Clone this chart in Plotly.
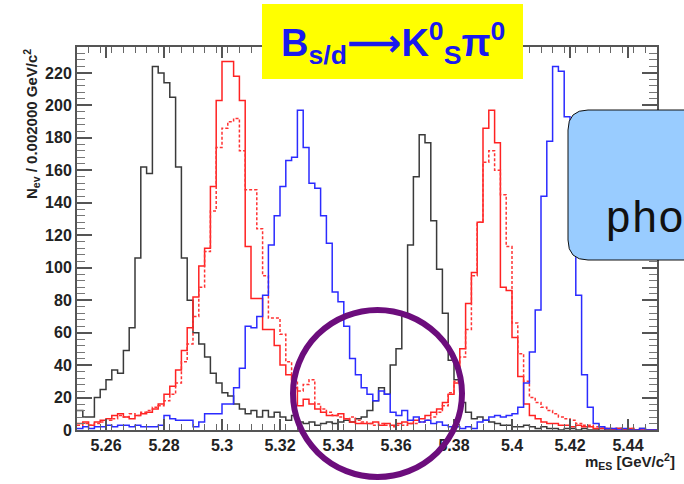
import numpy as np
import plotly.graph_objects as go

# ---------------- data (entries per 0.002 GeV/c^2 bin, 5.25 .. 5.45) ----------------
X_MIN = 5.25
BIN_WIDTH = 0.002

black = [12, 8, 8, 20, 25, 31, 37, 35, 49, 63,
         106, 162, 158, 224, 220, 214, 205, 162, 106, 80,
         60, 53, 45, 35, 29, 23, 21, 16, 13, 10,
         12, 8, 12, 8, 11, 8, 6, 9, 5, 4,
         5, 3, 4, 5, 4, 5, 6, 5, 7, 8,
         12, 18, 26, 22, 40, 50, 71, 114, 156, 182,
         177, 129, 99, 72, 43, 31, 17, 11, 7, 8,
         6, 5, 4, 3, 3, 2, 2, 3, 2, 1,
         2, 1, 1, 0, 1, 1, 0, 1, 0, 0,
         1, 0, 0, 1, 0, 0, 0, 1, 0, 0]

red_solid = [4, 5, 3, 5, 6, 7, 9, 10, 8, 7,
             9, 10, 11, 13, 16, 22, 27, 37, 49, 63,
             82, 101, 112, 150, 203, 227, 227, 218, 203, 113,
             81, 81, 62, 62, 52, 40, 34, 26, 15, 19,
             16, 13, 11, 9, 9, 10, 7, 5, 4, 4,
             4, 5, 3, 4, 3, 4, 5, 4, 6, 7,
             9, 11, 13, 17, 22, 29, 50, 78, 97, 128,
             186, 197, 177, 88, 86, 57, 33, 16, 9, 7,
             5, 4, 4, 3, 3, 2, 3, 2, 2, 1,
             1, 1, 0, 1, 0, 1, 0, 0, 0, 0]

red_dashed = [3, 4, 3, 4, 5, 6, 7, 9, 8, 10,
              9, 11, 12, 14, 15, 18, 22, 29, 42, 53,
              70, 88, 110, 135, 174, 186, 190, 192, 172, 148,
              148, 124, 95, 69, 69, 59, 42, 30, 24, 28,
              31, 16, 13, 11, 9, 8, 7, 8, 6, 5,
              4, 3, 4, 3, 2, 3, 3, 4, 4, 5,
              6, 8, 11, 15, 23, 30, 45, 62, 95, 128,
              165, 172, 160, 145, 113, 66, 47, 30, 20, 17,
              14, 12, 10, 8, 7, 6, 4, 3, 3, 2,
              2, 1, 1, 1, 0, 1, 0, 0, 0, 0]

blue = [1, 2, 1, 2, 2, 3, 2, 3, 3, 2,
        3, 2, 2, 2, 3, 9, 7, 6, 6, 6,
        2, 5, 10, 10, 10, 16, 16, 26, 38, 64,
        63, 70, 83, 114, 132, 150, 166, 168, 197, 174,
        152, 149, 132, 115, 85, 79, 64, 44, 34, 26,
        22, 18, 24, 22, 11, 9, 12, 6, 8, 5,
        6, 4, 5, 3, 2, 2, 1, 2, 1, 5,
        6, 8, 9, 8, 9, 10, 14, 29, 48, 74,
        144, 178, 224, 221, 193, 130, 83, 34, 14, 4,
        2, 1, 1, 0, 1, 0, 0, 1, 0, 0]

x_tick_vals = [5.26, 5.28, 5.30, 5.32, 5.34, 5.36, 5.38, 5.40, 5.42, 5.44]
x_tick_text = ["5.26", "5.28", "5.3", "5.32", "5.34", "5.36", "5.38", "5.4", "5.42", "5.44"]
y_tick_vals = [0, 20, 40, 60, 80, 100, 120, 140, 160, 180, 200, 220]

X_RANGE = [5.25, 5.45]
Y_RANGE = [0, 236]

# ---------------- figure ----------------
W, H = 684, 484
ML, MR, MT, MB = 77, 27, 47, 54
PW, PH = W - ML - MR, H - MT - MB


def px(xp):
    return (xp - ML) / PW


def py(yp):
    return (H - MB - yp) / PH


edges = X_MIN + BIN_WIDTH * np.arange(len(black) + 1)


def steps(vals):
    return list(vals) + [vals[-1]]


fig = go.Figure()
series = [
    (black, "#3a3a3a", "solid"),
    (red_solid, "#ff2222", "solid"),
    (red_dashed, "#ff3333", "3px,2px"),
    (blue, "#2b2bff", "solid"),
]
for vals, col, dash in series:
    fig.add_trace(go.Scatter(
        x=edges, y=steps(vals), mode="lines",
        line=dict(color=col, width=1.5, shape="hv", dash=dash),
        hoverinfo="skip", showlegend=False))

SANS = "Liberation Sans, Arial, sans-serif"
tick_font = dict(family=SANS, size=16, color="#222222", weight="bold")

fig.update_layout(
    width=W, height=H,
    margin=dict(l=ML, r=MR, t=MT, b=MB),
    paper_bgcolor="white", plot_bgcolor="white",
    showlegend=False,
    xaxis=dict(range=X_RANGE, tickmode="array", tickvals=x_tick_vals,
               ticktext=x_tick_text, ticks="inside", ticklen=11, tickwidth=1.5,
               tickcolor="#555555", showline=True, linecolor="#555555",
               linewidth=2, mirror="allticks", showgrid=False, zeroline=False,
               tickfont=tick_font,
               minor=dict(tickmode="linear", tick0=5.25, dtick=0.004,
                          ticks="inside", ticklen=6, tickwidth=1,
                          tickcolor="#666666", showgrid=False)),
    yaxis=dict(range=Y_RANGE, tickmode="array", tickvals=y_tick_vals,
               ticks="inside", ticklen=15, tickwidth=1.5,
               tickcolor="#555555", showline=True, linecolor="#555555",
               linewidth=2, mirror="allticks", showgrid=False, zeroline=False,
               tickfont=tick_font,
               minor=dict(tickmode="linear", tick0=0, dtick=4,
                          ticks="inside", ticklen=8, tickwidth=1,
                          tickcolor="#777777", showgrid=False)),
)

# title box (yellow)
fig.add_shape(type="rect", xref="paper", yref="paper",
              x0=px(262), x1=px(523), y0=py(79), y1=py(4),
              fillcolor="#ffff00", line=dict(width=0), layer="above")
fig.add_annotation(xref="paper", yref="paper", x=px(393), y=py(43),
                   xanchor="center", yanchor="middle", showarrow=False,
                   text=("B<sub>s/d</sub>"
                         "<span style=\"font-family:'DejaVu Sans'\">⟶</span>"
                         "K<sup>0</sup><sub>S</sub>π<sup>0</sup>"),
                   font=dict(family=SANS, size=38, color="#1a1aee", weight="bold"))

# rounded light-blue callout box (extends off the right edge)
bx0, bx1, by0, by1, r = 568, 740, 110, 260, 20
path = (f"M {px(bx0 + r)},{py(by0)} L {px(bx1)},{py(by0)} L {px(bx1)},{py(by1)} "
        f"L {px(bx0 + r)},{py(by1)} Q {px(bx0)},{py(by1)} {px(bx0)},{py(by1 - r)} "
        f"L {px(bx0)},{py(by0 + r)} Q {px(bx0)},{py(by0)} {px(bx0 + r)},{py(by0)} Z")
fig.add_shape(type="path", xref="paper", yref="paper", path=path,
              fillcolor="#99ccff", line=dict(color="#111111", width=1),
              layer="above")
fig.add_annotation(xref="paper", yref="paper", x=px(603), y=py(220),
                   xanchor="left", yanchor="middle", showarrow=False,
                   text="pho",
                   font=dict(family="Courier New, Liberation Mono, monospace",
                             size=44, color="#111111"))

# purple highlight circle
fig.add_shape(type="circle", xref="paper", yref="paper",
              x0=px(293), x1=px(462), y0=py(477), y1=py(310),
              line=dict(color="#6c0d7c", width=6), layer="above")

# axis titles
fig.add_annotation(xref="paper", yref="paper", x=px(31), y=py(124),
                   xanchor="center", yanchor="middle", showarrow=False,
                   textangle=-90,
                   text="N<sub>ev</sub> / 0.002000 GeV/c<sup>2</sup>",
                   font=dict(family=SANS, size=15, color="#222222", weight="bold"))
fig.add_annotation(xref="paper", yref="paper", x=px(677), y=py(461),
                   xanchor="right", yanchor="middle", showarrow=False,
                   text="m<sub>ES</sub> [GeV/c<sup>2</sup>]",
                   font=dict(family=SANS, size=15, color="#222222", weight="bold"))

fig.write_html("out.html")
